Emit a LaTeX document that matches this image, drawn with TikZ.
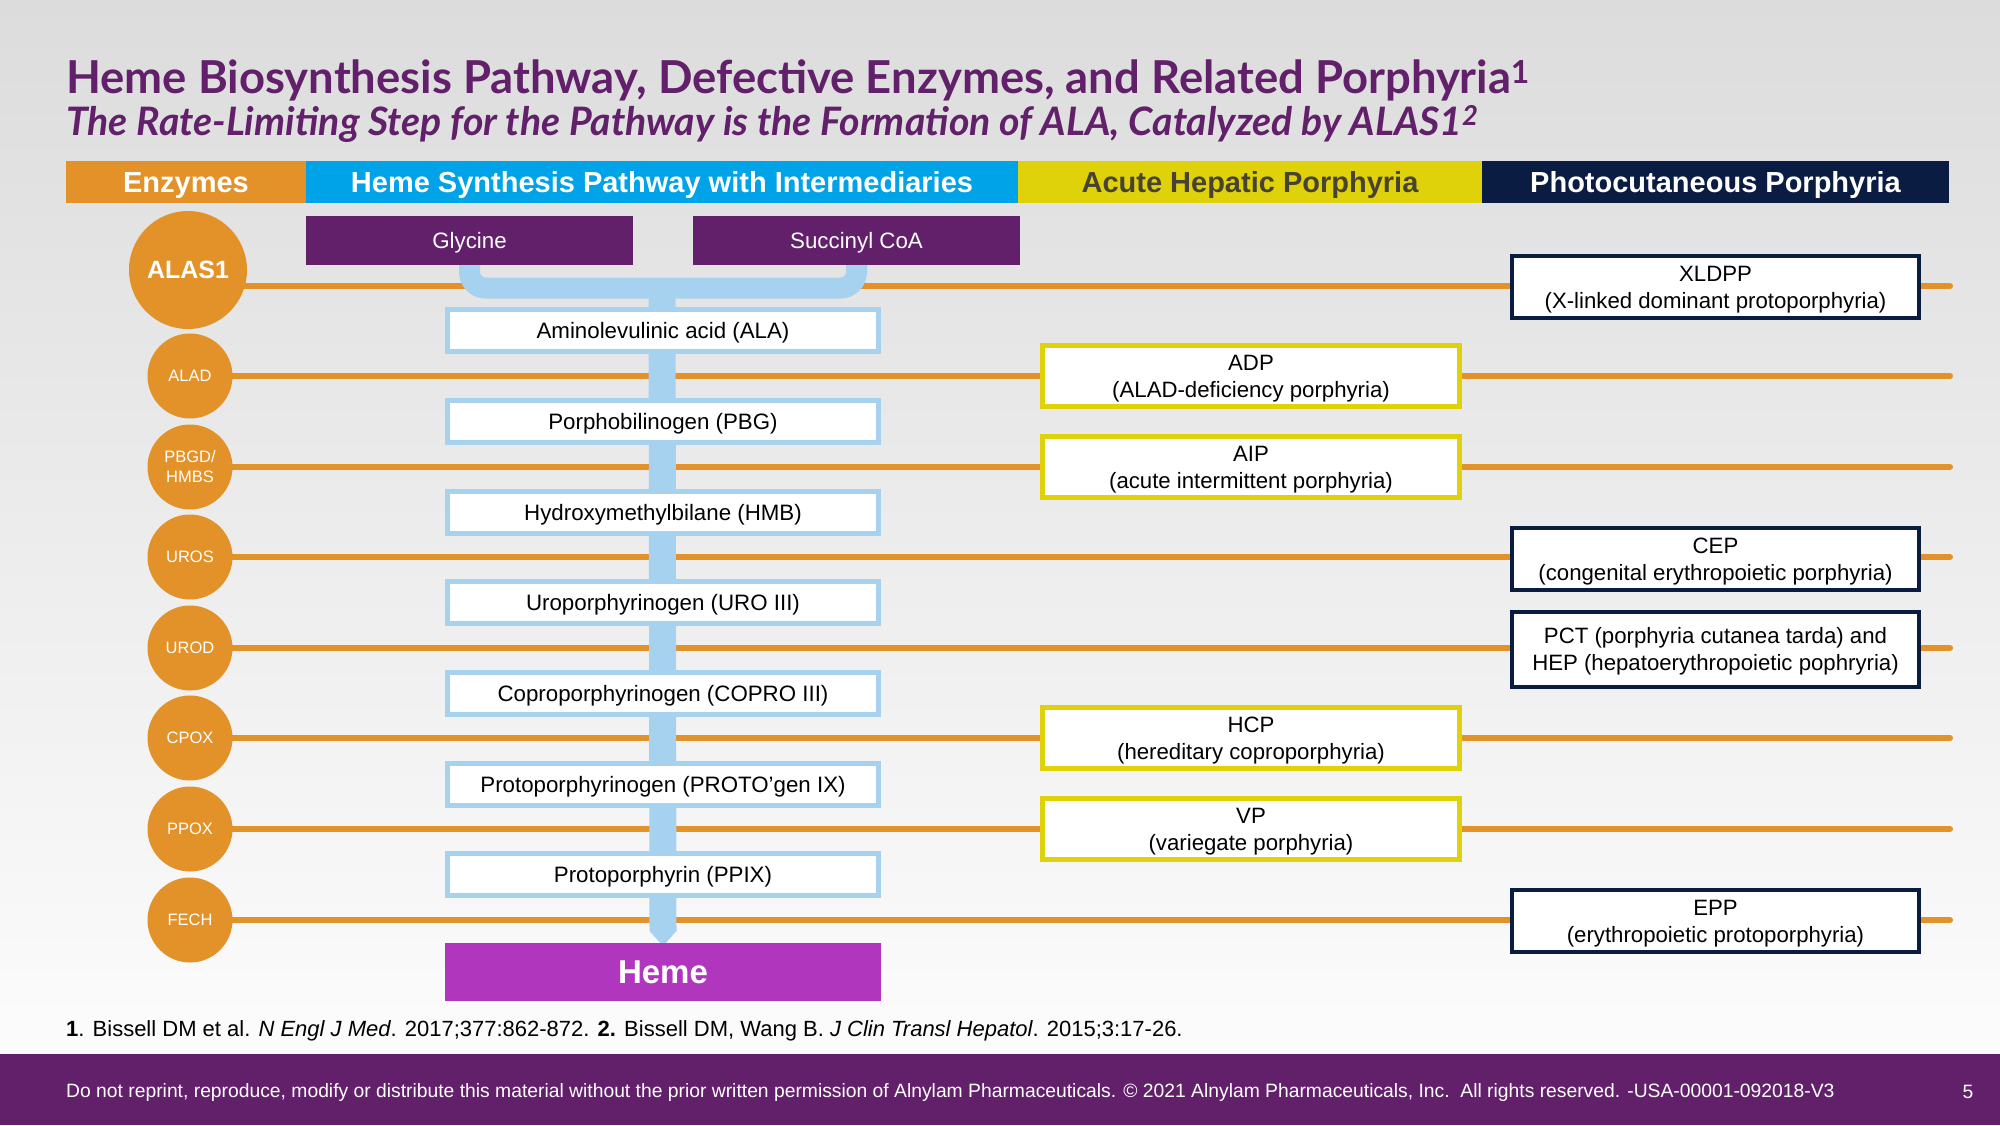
\documentclass[tikz,border=0pt]{standalone}
\usepackage{fontspec}
\setmainfont{Liberation Sans}
\newfontfamily\latofont{Lato}
\usetikzlibrary{calc,shapes.geometric}
\definecolor{bgtop}{RGB}{220,220,220}
\definecolor{bgbot}{RGB}{252,252,252}
\definecolor{enzorange}{RGB}{226,146,40}
\definecolor{hdrblue}{RGB}{0,163,232}
\definecolor{hdryellow}{RGB}{224,210,10}
\definecolor{hdrnavy}{RGB}{10,28,66}
\definecolor{pipeblue}{RGB}{166,210,240}
\definecolor{darkpurple}{RGB}{98,32,107}
\definecolor{hememag}{RGB}{176,54,190}
\definecolor{olivetext}{RGB}{72,66,48}
\pgfdeclarelayer{backlayer}
\pgfdeclarelayer{linelayer}
\pgfdeclarelayer{pipelayer}
\pgfsetlayers{backlayer,linelayer,pipelayer,main}
\tikzset{
  hdrcell/.style={rectangle, inner sep=0pt, outer sep=0pt, minimum height=42pt,
    text height=20.8pt, text depth=0pt,
    font=\fontsize{29}{29}\selectfont\bfseries, text=white},
  enzbig/.style={circle, fill=enzorange, inner sep=0pt, outer sep=0pt, minimum size=118pt,
    text height=17.9pt, text depth=0pt,
    text=white, font=\fontsize{25}{25}\selectfont\bfseries},
  enzsmall/.style={circle, fill=enzorange, inner sep=0pt, outer sep=0pt, minimum size=85pt,
    text height=11.8pt, text depth=0pt,
    text=white, align=center, font=\fontsize{16.5}{20}\selectfont},
  srcbox/.style={rectangle, fill=darkpurple, inner sep=0pt, outer sep=0pt,
    text height=16pt, text depth=0pt,
    minimum width=327pt, minimum height=49pt, text=white, font=\fontsize{22.3}{22.3}\selectfont},
  interbox/.style={rectangle, draw=pipeblue, line width=5pt, fill=white, inner sep=0pt, outer sep=0pt,
    text height=16pt, text depth=0pt,
    minimum width=431pt, minimum height=42pt, font=\fontsize{22.3}{22.3}\selectfont},
  acutebox/.style={rectangle, draw=hdryellow, line width=5pt, fill=white, inner sep=0pt, outer sep=0pt,
    text height=42.9pt, text depth=0pt,
    minimum width=417pt, minimum height=61pt, align=center, font=\fontsize{22.2}{27}\selectfont},
  photobox/.style={rectangle, draw=hdrnavy, line width=4pt, fill=white, inner sep=0pt, outer sep=0pt,
    text height=42.9pt, text depth=0pt,
    minimum width=407pt, minimum height=62pt, align=center, font=\fontsize{22.2}{27}\selectfont},
  oline/.style={draw=enzorange, line width=6pt, line cap=round},
  pipe/.style={draw=pipeblue, line width=21pt, rounded corners=16pt},
}
\begin{document}
\begin{tikzpicture}[x=1pt,y=-1pt]
\useasboundingbox (0,0) rectangle (2000,1125);
\begin{pgfonlayer}{backlayer}
  \shade[top color=bgtop, bottom color=bgbot] (0,0) rectangle (2000,1054);
  \fill[darkpurple] (0,1054) rectangle (2000,1125);
\end{pgfonlayer}

% Titles
\node[anchor=base west, inner sep=0pt, text=darkpurple, font=\latofont\bfseries\fontsize{45.4}{45.4}\selectfont] (title) at (66,93)
  {Heme Biosynthesis Pathway, Defective Enzymes, and Related Porphyria\textsuperscript{1}};
\node[anchor=base west, inner sep=0pt, text=darkpurple, font=\latofont\bfseries\itshape\fontsize{39.2}{39.2}\selectfont] (subtitle) at (66,135)
  {The Rate-Limiting Step for the Pathway is the Formation of ALA, Catalyzed by ALAS1\textsuperscript{2}};

% Header
\node[hdrcell, fill=enzorange, minimum width=240pt] (h1) at (186,182) {Enzymes};
\node[hdrcell, fill=hdrblue, minimum width=712pt] (h2) at (662,182) {Heme Synthesis Pathway with Intermediaries};
\node[hdrcell, fill=hdryellow, minimum width=464pt, text=olivetext] (h3) at (1250,182) {Acute Hepatic Porphyria};
\node[hdrcell, fill=hdrnavy, minimum width=467pt] (h4) at (1715.5,182) {Photocutaneous Porphyria};

% Enzymes
\node[enzbig] (alas) at (188,270) {ALAS1};
\node[enzsmall] (alad) at (190,376) {ALAD};
\node[enzsmall, text height=31.8pt] (pbgd) at (190,467) {PBGD/\\HMBS};
\node[enzsmall] (uros) at (190,557) {UROS};
\node[enzsmall] (urod) at (190,648) {UROD};
\node[enzsmall] (cpox) at (190,738) {CPOX};
\node[enzsmall] (ppox) at (190,829) {PPOX};
\node[enzsmall] (fech) at (190,920) {FECH};

\coordinate (rend) at (1950,0);
\coordinate (alasline) at (188,286);
\begin{pgfonlayer}{linelayer}
  \draw[oline] (alasline) -- (alasline -| rend);
  \foreach \e in {alad,pbgd,uros,urod,cpox,ppox,fech}{
    \draw[oline] (\e.center) -- (\e.center -| rend);
  }
\end{pgfonlayer}

% Sources
\node[srcbox] (gly) at (469.5,240.5) {Glycine};
\node[srcbox] (suc) at (856.5,240.5) {Succinyl CoA};

% Intermediates
\node[interbox] (ala) at (663,330) {Aminolevulinic acid (ALA)};
\node[interbox] (pbg) at (663,421) {Porphobilinogen (PBG)};
\node[interbox] (hmb) at (663,512) {Hydroxymethylbilane (HMB)};
\node[interbox] (uro) at (663,602.5) {Uroporphyrinogen (URO III)};
\node[interbox] (copro) at (663,693) {Coproporphyrinogen (COPRO III)};
\node[interbox] (proto) at (663,784) {Protoporphyrinogen (PROTO’gen IX)};
\node[interbox] (ppix) at (663,874) {Protoporphyrin (PPIX)};
\node[rectangle, fill=hememag, inner sep=0pt, outer sep=0pt, minimum width=436pt, minimum height=58pt,
  text height=23.6pt, text depth=0pt,
  text=white, font=\fontsize{33}{33}\selectfont\bfseries] (heme) at (663,972) {Heme};

\coordinate (ujoin) at (662,288);
\begin{pgfonlayer}{pipelayer}
  \draw[pipe] (gly.south) -- (gly.south |- ujoin) -- (suc.south |- ujoin) -- (suc.south);
  \fill[pipeblue] ($(ujoin)+(-13.5,0)$) -- ($(ppix.south)+(-13.5,36)$) -- ($(heme.north)+(0,3)$)
    -- ($(ppix.south)+(13.5,36)$) -- ($(ujoin)+(13.5,0)$) -- cycle;
\end{pgfonlayer}

% Acute hepatic porphyrias
\node[acutebox] (adp) at (1251,376) {ADP\\(ALAD-deficiency porphyria)};
\node[acutebox] (aip) at (1251,467) {AIP\\(acute intermittent porphyria)};
\node[acutebox] (hcp) at (1251,738) {HCP\\(hereditary coproporphyria)};
\node[acutebox] (vp) at (1251,829) {VP\\(variegate porphyria)};

% Photocutaneous porphyrias
\node[photobox] (xldpp) at (1715.5,287) {XLDPP\\(X-linked dominant protoporphyria)};
\node[photobox] (cep) at (1715.5,559) {CEP\\(congenital erythropoietic porphyria)};
\node[photobox, minimum height=75pt] (pct) at (1715.5,649) {PCT (porphyria cutanea tarda) and\\HEP (hepatoerythropoietic pophryria)};
\node[photobox] (epp) at (1715.5,921) {EPP\\(erythropoietic protoporphyria)};

% Footnote and footer
\node[anchor=west, inner sep=0pt, font=\fontsize{22}{22}\selectfont] (refs) at (66,1031)
  {\textbf{1}. Bissell DM et al. \textit{N Engl J Med}. 2017;377:862-872. \textbf{2.} Bissell DM, Wang B. \textit{J Clin Transl Hepatol}. 2015;3:17-26.};
\node[anchor=west, inner sep=0pt, text=white, font=\fontsize{19.3}{19.3}\selectfont] (legal) at (66,1092)
  {Do not reprint, reproduce, modify or distribute this material without the prior written permission of Alnylam Pharmaceuticals. © 2021 Alnylam Pharmaceuticals, Inc.\ \ All rights reserved. -USA-00001-092018-V3};
\node[inner sep=0pt, text=white, font=\fontsize{19.3}{19.3}\selectfont] (pagenum) at (1968,1092) {5};
\end{tikzpicture}
\end{document}
